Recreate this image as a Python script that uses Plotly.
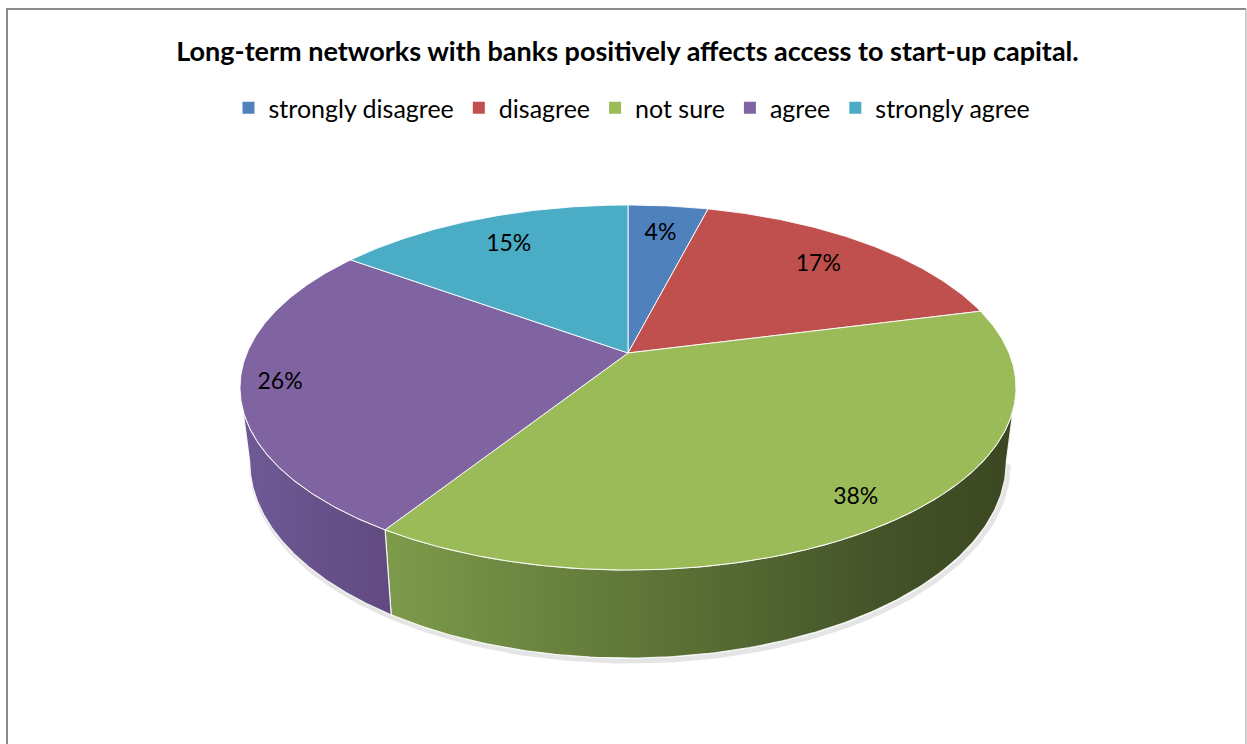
import numpy as np
import plotly.graph_objects as go

# ---------------- data ----------------
categories = ["strongly disagree", "disagree", "not sure", "agree", "strongly agree"]
values = [4, 17, 38, 26, 15]
colors = ["#4f81bd", "#c0504d", "#9bbb59", "#8064a2", "#4bacc6"]
side_scales = {
    2: [[0, "#7d9b4b"], [0.45, "#5b7236"], [0.8, "#435228"], [1, "#3b4721"]],
    3: [[0, "#705a96"], [1, "#604a80"]],
}
label_r = [0.78, 0.78, 0.88, 0.9, 0.78]
title_text = "Long-term networks with banks positively affects access to start-up capital."

# ------------- 3D pie projection (pixel space axes) -------------
W, Hh = 1247, 744
X0, Y0 = 628, 353          # apex of the pie
A, B, K = 381, 176, 0.189  # horizontal / vertical scale, perspective factor
DEPTH = 71.4
SX = 0.975


def top_pts(theta_deg, r=1.0):
    t = np.radians(theta_deg)
    X = r * np.sin(t)
    Z = r * np.cos(t)
    w = 1 + K * Z
    return X0 + A * X / w, Y0 - B * Z / w


def bot_pts(theta_deg):
    t = np.radians(theta_deg)
    X = np.sin(t)
    Z = np.cos(t)
    w = 1 + K * Z
    return X0 + SX * A * X / w, Y0 - B * Z / w + DEPTH / w


total = float(sum(values))
cum = np.concatenate([[0], np.cumsum(values)]) / total * 360.0
th_r = np.degrees(np.arccos(-K))        # right silhouette
th_l = 360 - th_r                      # left silhouette

fig = go.Figure()

# soft shadow under the pie
ths = np.linspace(th_r, th_l, 200)
bx, by = bot_pts(ths)
fig.add_trace(go.Scatter(x=bx + 2, y=by + 3, mode="lines",
                         line=dict(color="rgba(0,0,0,0.10)", width=5),
                         hoverinfo="skip", showlegend=False))

# side walls
for i in range(len(values)):
    a, b = cum[i], cum[i + 1]
    lo, hi = max(a, th_r), min(b, th_l)
    if hi <= lo:
        continue
    th = np.linspace(lo, hi, 150)
    tx, ty = top_pts(th)
    bx, by = bot_pts(th[::-1])
    xs = np.concatenate([tx, bx, tx[:1]])
    ys = np.concatenate([ty, by, ty[:1]])
    fig.add_trace(go.Scatter(
        x=xs, y=ys, mode="lines", fill="toself",
        fillgradient=dict(type="horizontal", colorscale=side_scales.get(i, [[0, colors[i]], [1, colors[i]]])),
        line=dict(color="rgba(255,255,255,0.85)", width=1.2),
        hoverinfo="skip", showlegend=False))

# top faces
for i in range(len(values)):
    a, b = cum[i], cum[i + 1]
    th = np.linspace(a, b, max(int((b - a) * 2), 8))
    tx, ty = top_pts(th)
    xs = np.concatenate([[X0], tx, [X0]])
    ys = np.concatenate([[Y0], ty, [Y0]])
    fig.add_trace(go.Scatter(
        x=xs, y=ys, mode="lines", fill="toself", fillcolor=colors[i],
        line=dict(color="rgba(255,255,255,0.9)", width=1),
        hoverinfo="skip", showlegend=False))

# percentage labels
mids = (cum[:-1] + cum[1:]) / 2
lx, ly = [], []
for m, r in zip(mids, label_r):
    x, y = top_pts(np.array([m]), r)
    lx.append(x[0]); ly.append(y[0])
fig.add_trace(go.Scatter(
    x=lx, y=ly, mode="text", text=[f"{v}%" for v in values],
    textfont=dict(family="Lato, Carlito, sans-serif", size=23, color="#000000"),
    hoverinfo="skip", showlegend=False))

# legend entries
for c, n in zip(colors, categories):
    fig.add_trace(go.Scatter(x=[None], y=[None], mode="markers", name=n,
                             marker=dict(symbol="square", size=12, color=c)))

# chart border
border = "#8c8c8c"
fig.add_shape(type="line", x0=7, x1=7, y0=9, y1=760, line=dict(color=border, width=2))
fig.add_shape(type="line", x0=6, x1=1246, y0=9, y1=9, line=dict(color=border, width=2))
fig.add_shape(type="line", x0=1246, x1=1246, y0=9, y1=760, line=dict(color="#bdbdbd", width=1.5))

fig.update_layout(
    width=W, height=Hh, autosize=False,
    margin=dict(l=0, r=0, t=0, b=0),
    paper_bgcolor="white", plot_bgcolor="white",
    xaxis=dict(range=[0, W], visible=False, fixedrange=True),
    yaxis=dict(range=[Hh, 0], visible=False, fixedrange=True),
    title=dict(text="<b>" + title_text + "</b>", x=627.5 / W, xanchor="center",
               y=1 - 52 / Hh, yanchor="middle",
               font=dict(family="Lato, Carlito, sans-serif", size=27, color="#000000")),
    legend=dict(orientation="h", x=632 / W, xanchor="center", y=1 - 108 / Hh, yanchor="middle",
                font=dict(family="Lato, Carlito, sans-serif", size=25, color="#000000"),
                bgcolor="rgba(0,0,0,0)"),
    showlegend=True,
)

fig.write_html("out.html")
